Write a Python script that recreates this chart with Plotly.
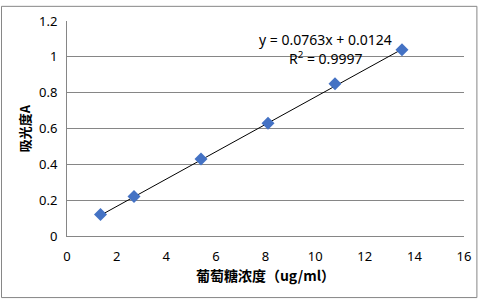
import plotly.graph_objects as go

conc = [1.35, 2.7, 5.4, 8.1, 10.8, 13.5]
absorb = [0.12, 0.22, 0.43, 0.63, 0.85, 1.04]
slope = 0.0763
intercept = 0.0124
r2 = 0.9997
x_ticks = [0, 2, 4, 6, 8, 10, 12, 14, 16]
y_ticks = [0, 0.2, 0.4, 0.6, 0.8, 1.0, 1.2]

W, H = 483, 301
L, R, T, B = 67, 16, 16, 65
pw, ph = W - L - R, H - T - B

fit_x = [conc[0], conc[-1]]
fit_y = [slope * v + intercept for v in fit_x]

fig = go.Figure()
fig.add_trace(go.Scatter(x=fit_x, y=fit_y, mode="lines",
                         line=dict(color="#000000", width=1), hoverinfo="skip"))
fig.add_trace(go.Scatter(x=conc, y=absorb, mode="markers",
                         marker=dict(symbol="diamond", size=10, color="#4472C4",
                                     line=dict(width=0))))

tickfont = dict(family="Noto Sans, DejaVu Sans, sans-serif", size=13, color="#000000")
fig.update_layout(
    width=W, height=H,
    margin=dict(l=L, r=R, t=T, b=B),
    paper_bgcolor="white", plot_bgcolor="white",
    showlegend=False,
    xaxis=dict(range=[0, 16], tickvals=x_ticks, ticktext=[str(v) for v in x_ticks],
               showgrid=False, zeroline=False, showline=True, linecolor="#868686",
               linewidth=1, ticks="", tickfont=tickfont, ticklabelstandoff=8,
               title=dict(text="<b>葡萄糖浓度（ug/ml）</b>",
                          font=dict(family="Noto Sans CJK SC", size=14, color="#000"),
                          standoff=7)),
    yaxis=dict(range=[0, 1.2], tickvals=y_ticks, ticktext=["0", "0.2", "0.4", "0.6", "0.8", "1", "1.2"],
               showgrid=True, gridcolor="#868686", gridwidth=1, zeroline=False,
               showline=True, linecolor="#868686", linewidth=1, ticks="",
               tickfont=tickfont, ticklabelstandoff=6,
               title=dict(text="<b>吸光度A</b>",
                          font=dict(family="Noto Sans CJK SC", size=13, color="#000"),
                          standoff=5)),
)

eqfont = dict(family="Noto Sans, DejaVu Sans, sans-serif", size=14, color="#000")
fig.add_annotation(xref="paper", yref="paper", x=(327 - L) / pw, y=(H - B - 35) / ph,
                   showarrow=False, xanchor="center", yanchor="middle",
                   text=f"y = {slope}x + {intercept}", font=eqfont)
fig.add_annotation(xref="paper", yref="paper", x=(327 - L) / pw, y=(H - B - 54) / ph,
                   showarrow=False, xanchor="center", yanchor="middle",
                   text=f"R<sup>2</sup> = {r2}", font=eqfont)

fig.add_shape(type="rect", xref="paper", yref="paper",
              x0=(1 - L) / pw, x1=(480 - L) / pw,
              y0=(H - B - 299) / ph, y1=(H - B - 1) / ph,
              line=dict(color="#868686", width=1), fillcolor="rgba(0,0,0,0)", layer="below")

fig.write_html("out.html")
